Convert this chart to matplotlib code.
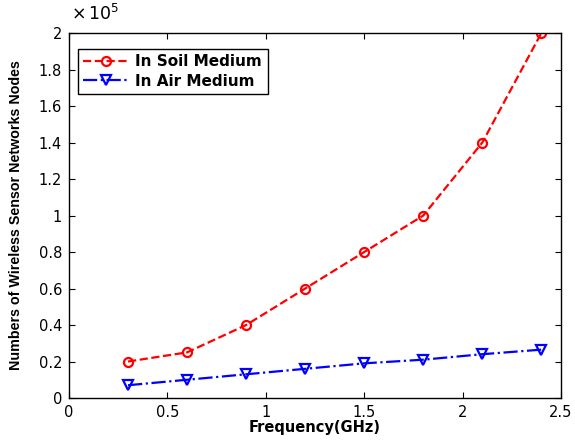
import matplotlib.pyplot as plt
from matplotlib.ticker import FuncFormatter

freq = [0.3, 0.6, 0.9, 1.2, 1.5, 1.8, 2.1, 2.4]
soil_nodes = [0.20e5, 0.25e5, 0.40e5, 0.60e5, 0.80e5, 1.00e5, 1.40e5, 2.00e5]
air_nodes = [0.07e5, 0.10e5, 0.13e5, 0.16e5, 0.19e5, 0.21e5, 0.24e5, 0.265e5]

plt.rcParams['font.family'] = ['DejaVu Sans']

fig = plt.figure(figsize=(5.75, 4.41), dpi=100)
ax = fig.add_axes([0.12, 0.0975, 0.8557, 0.8275])

ax.plot(freq, soil_nodes, color='red', linestyle='--', marker='o', markersize=6.5,
        markerfacecolor='none', markeredgewidth=1.6, linewidth=1.6, label='In Soil Medium')
ax.plot(freq, air_nodes, color='blue', linestyle='-.', marker='v', markersize=7.5,
        markerfacecolor='none', markeredgewidth=1.6, linewidth=1.6, label='In Air Medium')

ax.set_xlim(0, 2.5)
ax.set_ylim(0, 2e5)
ax.set_xticks([0, 0.5, 1, 1.5, 2, 2.5])
ax.set_yticks([i * 0.2e5 for i in range(11)])
ax.yaxis.set_major_formatter(FuncFormatter(lambda v, p: '%g' % round(v / 1e5, 2)))
ax.xaxis.set_major_formatter(FuncFormatter(lambda v, p: '%g' % v))
ax.tick_params(direction='in', top=True, right=True, labelsize=10.5, length=4, pad=5)
for s in ax.spines.values():
    s.set_linewidth(1.0)

ax.text(0.005, 1.025, r'$\times\,10^5$', transform=ax.transAxes, fontsize=12.5,
        ha='left', va='bottom')

ax.set_xlabel('Frequency(GHz)', fontsize=10.5, fontweight='bold', labelpad=0)
ax.set_ylabel('Numbers of Wireless Sensor Networks Nodes', fontsize=10.3,
              fontweight='bold', labelpad=11, family='Liberation Sans')

leg = ax.legend(loc='upper left', bbox_to_anchor=(0.003, 0.978), fancybox=False,
                edgecolor='black', framealpha=1, prop={'weight': 'bold', 'size': 11},
                handlelength=3, borderpad=0.35, labelspacing=0.3, handletextpad=0.4)
leg.get_frame().set_linewidth(1.0)

fig.savefig('out.png', dpi=100)
